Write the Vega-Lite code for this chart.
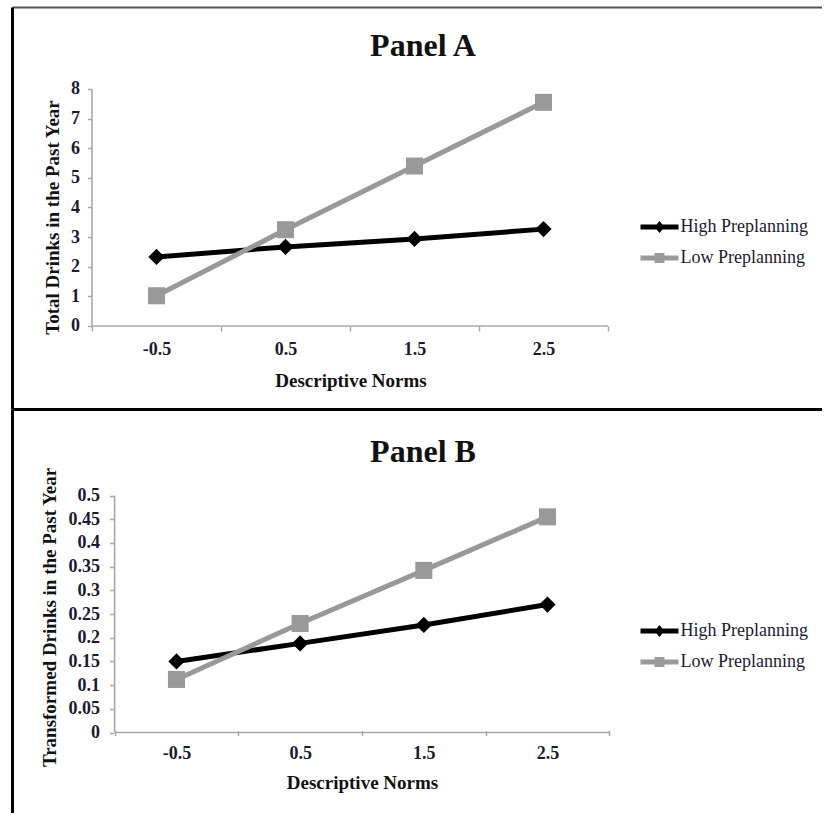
{
  "$schema": "https://vega.github.io/schema/vega-lite/v6.json",
  "padding": {"left": 12, "top": 7, "right": 0, "bottom": 0},
  "spacing": 0,
  "resolve": {"scale": {"color": "independent", "shape": "independent"}},
  "datasets": {
    "a": [
      {"norm": -0.5, "series": "High Preplanning", "value": 2.33},
      {"norm": 0.5, "series": "High Preplanning", "value": 2.67},
      {"norm": 1.5, "series": "High Preplanning", "value": 2.94},
      {"norm": 2.5, "series": "High Preplanning", "value": 3.27},
      {"norm": -0.5, "series": "Low Preplanning", "value": 1.02},
      {"norm": 0.5, "series": "Low Preplanning", "value": 3.25},
      {"norm": 1.5, "series": "Low Preplanning", "value": 5.4},
      {"norm": 2.5, "series": "Low Preplanning", "value": 7.55}
    ],
    "b": [
      {"norm": -0.5, "series": "High Preplanning", "value": 0.15},
      {"norm": 0.5, "series": "High Preplanning", "value": 0.188},
      {"norm": 1.5, "series": "High Preplanning", "value": 0.227},
      {"norm": 2.5, "series": "High Preplanning", "value": 0.27},
      {"norm": -0.5, "series": "Low Preplanning", "value": 0.112},
      {"norm": 0.5, "series": "Low Preplanning", "value": 0.23},
      {"norm": 1.5, "series": "Low Preplanning", "value": 0.342},
      {"norm": 2.5, "series": "Low Preplanning", "value": 0.455}
    ],
    "axA": [
      {"x": -1, "x2": 3, "y": 0, "y2": 0},
      {"x": -1, "x2": -1, "y": 0, "y2": 8}
    ],
    "axB": [
      {"x": -1, "x2": 3, "y": 0, "y2": 0},
      {"x": -1, "x2": -1, "y": 0, "y2": 0.5}
    ]
  },
  "vconcat": [
    {
      "width": 810,
      "height": 402,
      "title": {"text": "Panel A", "offset": -50, "dy": 31, "baseline": "alphabetic", "dx": 6, "anchor": "middle", "frame": "group", "font": "Liberation Serif", "fontWeight": "bold", "fontSize": 32, "color": "#111111"},
      "layer": [
        {
          "data": {"name": "axA"},
          "mark": {"type": "rule", "color": "#a8a8a8", "strokeWidth": 1.6},
          "encoding": {
            "x": {"field": "x", "type": "quantitative", "scale": {"domain": [-1.62, 4.659], "nice": false, "zero": false},
              "axis": {"orient": "top", "domain": true, "domainColor": "#555555", "domainWidth": 2, "ticks": false, "labels": false, "grid": false, "title": null}},
            "x2": {"field": "x2"},
            "y": {"field": "y", "type": "quantitative", "scale": {"domain": [-2.802, 10.768], "nice": false, "zero": false},
              "axis": {"orient": "left", "domain": true, "domainColor": "#000000", "domainWidth": 3, "ticks": false, "labels": false, "grid": false, "title": null}},
            "y2": {"field": "y2"}
          }
        },
        {
          "data": {"name": "a"},
          "transform": [{"filter": "datum.series === 'High Preplanning'"}],
          "mark": {"type": "line", "strokeWidth": 5, "color": "#000000"},
          "encoding": {
            "x": {"field": "norm", "type": "quantitative", "scale": {"domain": [-1.62, 4.659], "nice": false, "zero": false},
              "axis": {"orient": "bottom", "offset": -83, "domain": false, "grid": false, "values": [-1, -0.5, 0, 0.5, 1, 1.5, 2, 2.5, 3],
                "labelExpr": "datum.value % 1 === 0 ? '' : '' + datum.value", "labelOverlap": false,
                "tickOpacity": {"condition": {"test": "datum.value % 1 === 0", "value": 1}, "value": 0},
                "tickColor": "#a8a8a8", "tickWidth": 1.5, "tickSize": 5,
                "labelBaseline": "alphabetic", "labelPadding": 23, "labelFont": "Liberation Serif", "labelFontWeight": "bold", "labelFontSize": 18, "labelColor": "#1a1a33",
                "title": "Descriptive Norms", "titleX": 338.5, "titleY": 60, "titleBaseline": "alphabetic", "titleAlign": "center", "titleFont": "Liberation Serif", "titleFontWeight": "bold", "titleFontSize": 19, "titleColor": "#111111"}},
            "y": {"field": "value", "type": "quantitative", "scale": {"domain": [-2.802, 10.768], "nice": false, "zero": false},
              "axis": {"orient": "left", "offset": -79.5, "domain": false, "grid": false, "values": [0, 1, 2, 3, 4, 5, 6, 7, 8],
                "tickColor": "#a8a8a8", "tickWidth": 1.5, "tickSize": 4, "labelPadding": 8,
                "labelFont": "Liberation Serif", "labelFontWeight": "bold", "labelFontSize": 18, "labelColor": "#1a1a33",
                "title": "Total Drinks in the Past Year", "titleY": 210, "titlePadding": 8, "titleFont": "Liberation Serif", "titleFontWeight": "bold", "titleFontSize": 19, "titleColor": "#111111"}}
          }
        },
        {
          "data": {"name": "a"},
          "transform": [{"filter": "datum.series === 'Low Preplanning'"}],
          "mark": {"type": "line", "strokeWidth": 5, "color": "#999999"},
          "encoding": {
            "x": {"field": "norm", "type": "quantitative", "axis": null},
            "y": {"field": "value", "type": "quantitative", "axis": null}
          }
        },
        {
          "data": {"name": "a"},
          "transform": [{"filter": "datum.series === 'High Preplanning'"}],
          "mark": {"type": "point", "shape": "diamond", "filled": true, "size": 265, "color": "#000000", "opacity": 1},
          "encoding": {
            "x": {"field": "norm", "type": "quantitative", "axis": null},
            "y": {"field": "value", "type": "quantitative", "axis": null}
          }
        },
        {
          "data": {"name": "a"},
          "transform": [{"filter": "datum.series === 'Low Preplanning'"}],
          "mark": {"type": "point", "shape": "square", "filled": true, "size": 290, "color": "#999999", "opacity": 1},
          "encoding": {
            "x": {"field": "norm", "type": "quantitative", "axis": null},
            "y": {"field": "value", "type": "quantitative", "axis": null}
          }
        },
        {
          "data": {"name": "a"},
          "mark": {"type": "point", "filled": true, "opacity": 0},
          "encoding": {
            "x": {"field": "norm", "type": "quantitative", "axis": null},
            "y": {"field": "value", "type": "quantitative", "axis": null},
            "color": {"field": "series", "type": "nominal", "scale": {"domain": ["High Preplanning", "Low Preplanning"], "range": ["#000000", "#999999"]},
              "legend": {"orient": "none", "legendX": 628.5, "legendY": 201, "title": null, "symbolSize": 1444, "symbolOpacity": 1, "symbolStrokeWidth": 0, "labelOffset": 2, "rowPadding": 3, "labelFont": "Liberation Serif", "labelFontSize": 18, "labelColor": "#1a1a33"}},
            "shape": {"field": "series", "type": "nominal", "scale": {"domain": ["High Preplanning", "Low Preplanning"], "range": ["M-1,-0.13L1,-0.13L1,0.13L-1,0.13Z M0,-0.32L0.26,0L0,0.32L-0.26,0Z", "M-1,-0.13L1,-0.13L1,0.13L-1,0.13Z M-0.26,-0.26L0.26,-0.26L0.26,0.26L-0.26,0.26Z"]},
              "legend": {"orient": "none", "legendX": 628.5, "legendY": 201, "title": null, "symbolSize": 1444, "symbolOpacity": 1, "symbolStrokeWidth": 0, "labelOffset": 2, "rowPadding": 3, "labelFont": "Liberation Serif", "labelFontSize": 18, "labelColor": "#1a1a33"}}
          }
        }
      ],
      "resolve": {"axis": {"x": "independent", "y": "independent"}}
    },
    {
      "width": 810,
      "height": 404,
      "title": {"text": "Panel B", "offset": -52, "dy": 33, "baseline": "alphabetic", "dx": 6, "anchor": "middle", "frame": "group", "font": "Liberation Serif", "fontWeight": "bold", "fontSize": 32, "color": "#111111"},
      "layer": [
        {
          "data": {"name": "axB"},
          "mark": {"type": "rule", "color": "#a8a8a8", "strokeWidth": 1.6},
          "encoding": {
            "x": {"field": "x", "type": "quantitative", "scale": {"domain": [-1.83, 4.72], "nice": false, "zero": false},
              "axis": {"orient": "top", "domain": true, "domainColor": "#000000", "domainWidth": 3, "ticks": false, "labels": false, "grid": false, "title": null}},
            "x2": {"field": "x2"},
            "y": {"field": "y", "type": "quantitative", "scale": {"domain": [-0.1698, 0.6825], "nice": false, "zero": false},
              "axis": {"orient": "left", "domain": true, "domainColor": "#000000", "domainWidth": 3, "ticks": false, "labels": false, "grid": false, "title": null}},
            "y2": {"field": "y2"}
          }
        },
        {
          "data": {"name": "b"},
          "transform": [{"filter": "datum.series === 'High Preplanning'"}],
          "mark": {"type": "line", "strokeWidth": 5, "color": "#000000"},
          "encoding": {
            "x": {"field": "norm", "type": "quantitative", "scale": {"domain": [-1.83, 4.72], "nice": false, "zero": false},
              "axis": {"orient": "bottom", "offset": -82.5, "domain": false, "grid": false, "values": [-1, -0.5, 0, 0.5, 1, 1.5, 2, 2.5, 3],
                "labelExpr": "datum.value % 1 === 0 ? '' : '' + datum.value", "labelOverlap": false,
                "tickOpacity": {"condition": {"test": "datum.value % 1 === 0", "value": 1}, "value": 0},
                "tickColor": "#a8a8a8", "tickWidth": 1.5, "tickSize": 5,
                "labelBaseline": "alphabetic", "labelPadding": 23, "labelFont": "Liberation Serif", "labelFontWeight": "bold", "labelFontSize": 18, "labelColor": "#1a1a33",
                "title": "Descriptive Norms", "titleX": 350, "titleY": 58, "titleBaseline": "alphabetic", "titleAlign": "center", "titleFont": "Liberation Serif", "titleFontWeight": "bold", "titleFontSize": 19, "titleColor": "#111111"}},
            "y": {"field": "value", "type": "quantitative", "scale": {"domain": [-0.1698, 0.6825], "nice": false, "zero": false},
              "axis": {"orient": "left", "offset": -101.5, "domain": false, "grid": false, "values": [0, 0.05, 0.1, 0.15, 0.2, 0.25, 0.3, 0.35, 0.4, 0.45, 0.5],
                "labelExpr": "'' + datum.value",
                "tickColor": "#a8a8a8", "tickWidth": 1.5, "tickSize": 4, "labelPadding": 10,
                "labelFont": "Liberation Serif", "labelFontWeight": "bold", "labelFontSize": 18, "labelColor": "#1a1a33",
                "title": "Transformed Drinks in the Past Year", "titleY": 208, "titlePadding": 9, "titleFont": "Liberation Serif", "titleFontWeight": "bold", "titleFontSize": 19, "titleColor": "#111111"}}
          }
        },
        {
          "data": {"name": "b"},
          "transform": [{"filter": "datum.series === 'Low Preplanning'"}],
          "mark": {"type": "line", "strokeWidth": 5, "color": "#999999"},
          "encoding": {
            "x": {"field": "norm", "type": "quantitative", "axis": null},
            "y": {"field": "value", "type": "quantitative", "axis": null}
          }
        },
        {
          "data": {"name": "b"},
          "transform": [{"filter": "datum.series === 'High Preplanning'"}],
          "mark": {"type": "point", "shape": "diamond", "filled": true, "size": 265, "color": "#000000", "opacity": 1},
          "encoding": {
            "x": {"field": "norm", "type": "quantitative", "axis": null},
            "y": {"field": "value", "type": "quantitative", "axis": null}
          }
        },
        {
          "data": {"name": "b"},
          "transform": [{"filter": "datum.series === 'Low Preplanning'"}],
          "mark": {"type": "point", "shape": "square", "filled": true, "size": 290, "color": "#999999", "opacity": 1},
          "encoding": {
            "x": {"field": "norm", "type": "quantitative", "axis": null},
            "y": {"field": "value", "type": "quantitative", "axis": null}
          }
        },
        {
          "data": {"name": "b"},
          "mark": {"type": "point", "filled": true, "opacity": 0},
          "encoding": {
            "x": {"field": "norm", "type": "quantitative", "axis": null},
            "y": {"field": "value", "type": "quantitative", "axis": null},
            "color": {"field": "series", "type": "nominal", "scale": {"domain": ["High Preplanning", "Low Preplanning"], "range": ["#000000", "#999999"]},
              "legend": {"orient": "none", "legendX": 628.5, "legendY": 203, "title": null, "symbolSize": 1444, "symbolOpacity": 1, "symbolStrokeWidth": 0, "labelOffset": 2, "rowPadding": 3, "labelFont": "Liberation Serif", "labelFontSize": 18, "labelColor": "#1a1a33"}},
            "shape": {"field": "series", "type": "nominal", "scale": {"domain": ["High Preplanning", "Low Preplanning"], "range": ["M-1,-0.13L1,-0.13L1,0.13L-1,0.13Z M0,-0.32L0.26,0L0,0.32L-0.26,0Z", "M-1,-0.13L1,-0.13L1,0.13L-1,0.13Z M-0.26,-0.26L0.26,-0.26L0.26,0.26L-0.26,0.26Z"]},
              "legend": {"orient": "none", "legendX": 628.5, "legendY": 203, "title": null, "symbolSize": 1444, "symbolOpacity": 1, "symbolStrokeWidth": 0, "labelOffset": 2, "rowPadding": 3, "labelFont": "Liberation Serif", "labelFontSize": 18, "labelColor": "#1a1a33"}}
          }
        }
      ],
      "resolve": {"axis": {"x": "independent", "y": "independent"}}
    }
  ],
  "config": {
    "view": {"stroke": null},
    "axis": {"grid": false},
    "font": "Liberation Serif",
    "background": "#ffffff"
  }
}
